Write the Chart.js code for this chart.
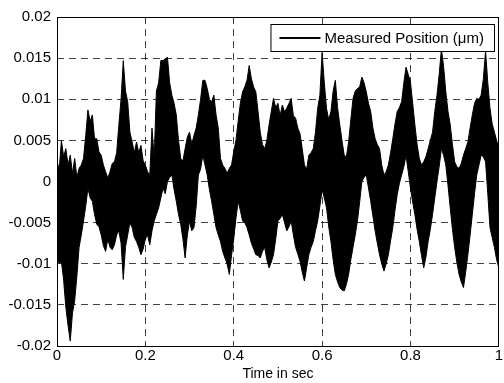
<!DOCTYPE html>
<html>
<head>
<meta charset="utf-8">
<script src="https://cdn.jsdelivr.net/npm/chart.js@4/dist/chart.umd.min.js"></script>
<style>
html, body { margin: 0; padding: 0; background: #fff; }
</style>
</head>
<body>
<canvas id="chart" width="504" height="383"></canvas>
<script>
// sample times (s), read every 0.005 s along the trace
const times = [
    0.000, 0.005, 0.010, 0.015, 0.020, 0.025, 0.030, 0.035, 0.040, 0.045,
    0.050, 0.055, 0.060, 0.065, 0.070, 0.075, 0.080, 0.085, 0.090, 0.095,
    0.100, 0.105, 0.110, 0.115, 0.120, 0.125, 0.130, 0.135, 0.140, 0.145,
    0.150, 0.155, 0.160, 0.165, 0.170, 0.175, 0.180, 0.185, 0.190, 0.195,
    0.200, 0.205, 0.210, 0.215, 0.220, 0.225, 0.230, 0.235, 0.240, 0.245,
    0.250, 0.255, 0.260, 0.265, 0.270, 0.275, 0.280, 0.285, 0.290, 0.295,
    0.300, 0.305, 0.310, 0.315, 0.320, 0.325, 0.330, 0.335, 0.340, 0.345,
    0.350, 0.355, 0.360, 0.365, 0.370, 0.375, 0.380, 0.385, 0.390, 0.395,
    0.400, 0.405, 0.410, 0.415, 0.420, 0.425, 0.430, 0.435, 0.440, 0.445,
    0.450, 0.455, 0.460, 0.465, 0.470, 0.475, 0.480, 0.485, 0.490, 0.495,
    0.500, 0.505, 0.510, 0.515, 0.520, 0.525, 0.530, 0.535, 0.540, 0.545,
    0.550, 0.555, 0.560, 0.565, 0.570, 0.575, 0.580, 0.585, 0.590, 0.595,
    0.600, 0.605, 0.610, 0.615, 0.620, 0.625, 0.630, 0.635, 0.640, 0.645,
    0.650, 0.655, 0.660, 0.665, 0.670, 0.675, 0.680, 0.685, 0.690, 0.695,
    0.700, 0.705, 0.710, 0.715, 0.720, 0.725, 0.730, 0.735, 0.740, 0.745,
    0.750, 0.755, 0.760, 0.765, 0.770, 0.775, 0.780, 0.785, 0.790, 0.795,
    0.800, 0.805, 0.810, 0.815, 0.820, 0.825, 0.830, 0.835, 0.840, 0.845,
    0.850, 0.855, 0.860, 0.865, 0.870, 0.875, 0.880, 0.885, 0.890, 0.895,
    0.900, 0.905, 0.910, 0.915, 0.920, 0.925, 0.930, 0.935, 0.940, 0.945,
    0.950, 0.955, 0.960, 0.965, 0.970, 0.975, 0.980, 0.985, 0.990, 0.995,
    1.000
];

// top of the noisy trace at each sample
const upper = [
    0.0024, 0.0015, 0.0050, 0.0030, 0.0040, 0.0020, 0.0032, 0.0010, 0.0028, 0.0005,
    0.0016, 0.0020, 0.0028, 0.0056, 0.0087, 0.0073, 0.0081, 0.0052, 0.0052, 0.0036,
    0.0032, 0.0020, 0.0012, 0.0004, 0.0012, 0.0022, 0.0024, 0.0035, 0.0069, 0.0100,
    0.0147, 0.0110, 0.0097, 0.0060, 0.0048, 0.0035, 0.0048, 0.0035, 0.0044, 0.0025,
    0.0020, 0.0012, 0.0008, 0.0065, 0.0028, 0.0110, 0.0120, 0.0147, 0.0147, 0.0149,
    0.0151, 0.0120, 0.0105, 0.0095, 0.0081, 0.0050, 0.0028, 0.0025, 0.0040, 0.0054,
    0.0060, 0.0045, 0.0056, 0.0065, 0.0081, 0.0100, 0.0123, 0.0123, 0.0113, 0.0100,
    0.0097, 0.0105, 0.0081, 0.0065, 0.0028, 0.0020, 0.0016, 0.0010, 0.0016, 0.0020,
    0.0036, 0.0050, 0.0073, 0.0095, 0.0109, 0.0115, 0.0123, 0.0141, 0.0125, 0.0115,
    0.0109, 0.0085, 0.0060, 0.0045, 0.0040, 0.0050, 0.0069, 0.0085, 0.0101, 0.0090,
    0.0095, 0.0080, 0.0093, 0.0085, 0.0089, 0.0095, 0.0101, 0.0080, 0.0077, 0.0065,
    0.0058, 0.0040, 0.0020, 0.0015, 0.0032, 0.0035, 0.0040, 0.0060, 0.0089, 0.0105,
    0.0157, 0.0120, 0.0089, 0.0075, 0.0085, 0.0110, 0.0123, 0.0090, 0.0069, 0.0050,
    0.0032, 0.0030, 0.0048, 0.0075, 0.0101, 0.0110, 0.0113, 0.0115, 0.0127, 0.0120,
    0.0109, 0.0095, 0.0085, 0.0065, 0.0052, 0.0045, 0.0040, 0.0020, 0.0008, 0.0012,
    0.0020, 0.0035, 0.0052, 0.0070, 0.0085, 0.0090, 0.0097, 0.0120, 0.0139, 0.0130,
    0.0121, 0.0095, 0.0069, 0.0045, 0.0028, 0.0020, 0.0024, 0.0030, 0.0040, 0.0050,
    0.0060, 0.0085, 0.0105, 0.0130, 0.0161, 0.0140, 0.0109, 0.0085, 0.0069, 0.0045,
    0.0024, 0.0018, 0.0016, 0.0022, 0.0032, 0.0040, 0.0048, 0.0065, 0.0081, 0.0095,
    0.0101, 0.0100, 0.0105, 0.0125, 0.0159, 0.0120, 0.0089, 0.0070, 0.0060, 0.0050,
    0.0040
];

// bottom of the noisy trace at each sample
const lower = [
    -0.0089, -0.0100, -0.0097, -0.0120, -0.0153, -0.0175, -0.0194, -0.0160, -0.0145, -0.0115,
    -0.0080, -0.0065, -0.0048, -0.0030, -0.0008, -0.0020, -0.0024, -0.0040, -0.0052, -0.0055,
    -0.0065, -0.0078, -0.0085, -0.0070, -0.0080, -0.0083, -0.0077, -0.0065, -0.0060, -0.0075,
    -0.0119, -0.0080, -0.0065, -0.0050, -0.0056, -0.0068, -0.0073, -0.0080, -0.0089, -0.0082,
    -0.0070, -0.0065, -0.0077, -0.0060, -0.0048, -0.0040, -0.0032, -0.0020, -0.0008, -0.0015,
    0.0000, 0.0005, 0.0008, -0.0010, -0.0024, -0.0040, -0.0052, -0.0070, -0.0093, -0.0065,
    -0.0048, -0.0060, -0.0056, -0.0030, 0.0008, 0.0015, 0.0032, 0.0020, 0.0008, -0.0010,
    -0.0024, -0.0040, -0.0056, -0.0065, -0.0073, -0.0085, -0.0093, -0.0100, -0.0113, -0.0090,
    -0.0070, -0.0045, -0.0024, -0.0035, -0.0048, -0.0050, -0.0056, -0.0065, -0.0075, -0.0082,
    -0.0089, -0.0090, -0.0093, -0.0085, -0.0080, -0.0095, -0.0105, -0.0098, -0.0089, -0.0070,
    -0.0048, -0.0045, -0.0040, -0.0050, -0.0060, -0.0055, -0.0048, -0.0065, -0.0080, -0.0088,
    -0.0097, -0.0110, -0.0121, -0.0105, -0.0089, -0.0080, -0.0073, -0.0060, -0.0048, -0.0030,
    -0.0010, -0.0020, -0.0032, -0.0055, -0.0073, -0.0095, -0.0113, -0.0122, -0.0129, -0.0132,
    -0.0133, -0.0125, -0.0113, -0.0095, -0.0080, -0.0065, -0.0048, -0.0025, 0.0000, 0.0005,
    0.0008, -0.0008, -0.0024, -0.0042, -0.0060, -0.0075, -0.0089, -0.0100, -0.0109, -0.0100,
    -0.0089, -0.0072, -0.0056, -0.0035, -0.0016, -0.0002, 0.0008, 0.0018, 0.0032, 0.0012,
    -0.0008, -0.0025, -0.0040, -0.0058, -0.0073, -0.0090, -0.0105, -0.0092, -0.0073, -0.0058,
    -0.0040, -0.0020, 0.0000, 0.0018, 0.0040, 0.0032, 0.0020, -0.0005, -0.0032, -0.0058,
    -0.0080, -0.0098, -0.0113, -0.0122, -0.0129, -0.0110, -0.0089, -0.0065, -0.0040, -0.0015,
    0.0008, 0.0020, 0.0032, 0.0030, 0.0024, -0.0015, -0.0056, -0.0068, -0.0080, -0.0095,
    -0.0105
];

const FONT = 'Liberation Sans, Arial, Helvetica, sans-serif';

// box round the plot + MATLAB style legend inside the axes
const frameAndLegend = {
    id: 'frameAndLegend',
    afterDraw(chart) {
        const { ctx, chartArea: a } = chart;
        ctx.save();
        ctx.strokeStyle = '#000';
        ctx.lineWidth = 1;
        ctx.strokeRect(Math.round(a.left) + 0.5, Math.round(a.top) + 0.5,
            Math.round(a.right - a.left) - 1, Math.round(a.bottom - a.top));

        const label = chart.data.datasets[0].label;
        ctx.font = '15px ' + FONT;
        const tw = ctx.measureText(label).width;
        const h = 27;
        const right = Math.round(a.right) - 5;
        const top = Math.round(a.top) + 7;
        const left = right - (tw + 64);
        ctx.fillStyle = '#fff';
        ctx.fillRect(left, top, right - left, h);
        ctx.strokeRect(left + 0.5, top + 0.5, right - left, h);
        ctx.beginPath();
        ctx.lineWidth = 2;
        ctx.moveTo(left + 9, top + h / 2 + 0.5);
        ctx.lineTo(left + 50, top + h / 2 + 0.5);
        ctx.stroke();
        ctx.fillStyle = '#000';
        ctx.textBaseline = 'middle';
        ctx.fillText(label, left + 54, top + h / 2 + 1);
        ctx.restore();
    }
};

new Chart(document.getElementById('chart'), {
    type: 'line',
    data: {
        datasets: [
            {
                label: 'Measured Position (\u03BCm)',
                data: times.map((t, i) => ({ x: t, y: upper[i] })),
                borderColor: '#000',
                backgroundColor: '#000',
                borderWidth: 1,
                pointRadius: 0,
                tension: 0,
                fill: '+1'
            },
            {
                label: 'lower',
                data: times.map((t, i) => ({ x: t, y: lower[i] })),
                borderColor: '#000',
                borderWidth: 1,
                pointRadius: 0,
                tension: 0,
                fill: false
            }
        ]
    },
    options: {
        responsive: false,
        animation: false,
        devicePixelRatio: 1,
        layout: { padding: { top: 17, right: 2, left: 0, bottom: 0 } },
        plugins: {
            legend: { display: false },
            tooltip: { enabled: false }
        },
        scales: {
            x: {
                type: 'linear',
                min: 0,
                max: 1,
                ticks: {
                    stepSize: 0.2,
                    color: '#000',
                    padding: 1,
                    maxRotation: 0,
                    font: { family: FONT, size: 15 },
                    callback: v => String(Number(v.toFixed(2)))
                },
                grid: {
                    color: 'rgba(0,0,0,0.75)',
                    drawTicks: false
                },
                border: { display: false, dash: [7, 5] },
                title: {
                    display: true,
                    text: 'Time in sec',
                    color: '#000',
                    padding: { top: 2, bottom: 0 },
                    font: { family: FONT, size: 14 }
                },
                afterFit: s => { s.height = 37; }
            },
            y: {
                min: -0.02,
                max: 0.02,
                ticks: {
                    stepSize: 0.005,
                    color: '#000',
                    padding: 6,
                    font: { family: FONT, size: 15 },
                    callback: v => String(Number(v.toFixed(3)))
                },
                grid: {
                    color: 'rgba(0,0,0,0.75)',
                    drawTicks: false
                },
                border: { display: false, dash: [7, 5] },
                afterFit: s => { s.width = 57; }
            }
        }
    },
    plugins: [frameAndLegend]
});
</script>
</body>
</html>
